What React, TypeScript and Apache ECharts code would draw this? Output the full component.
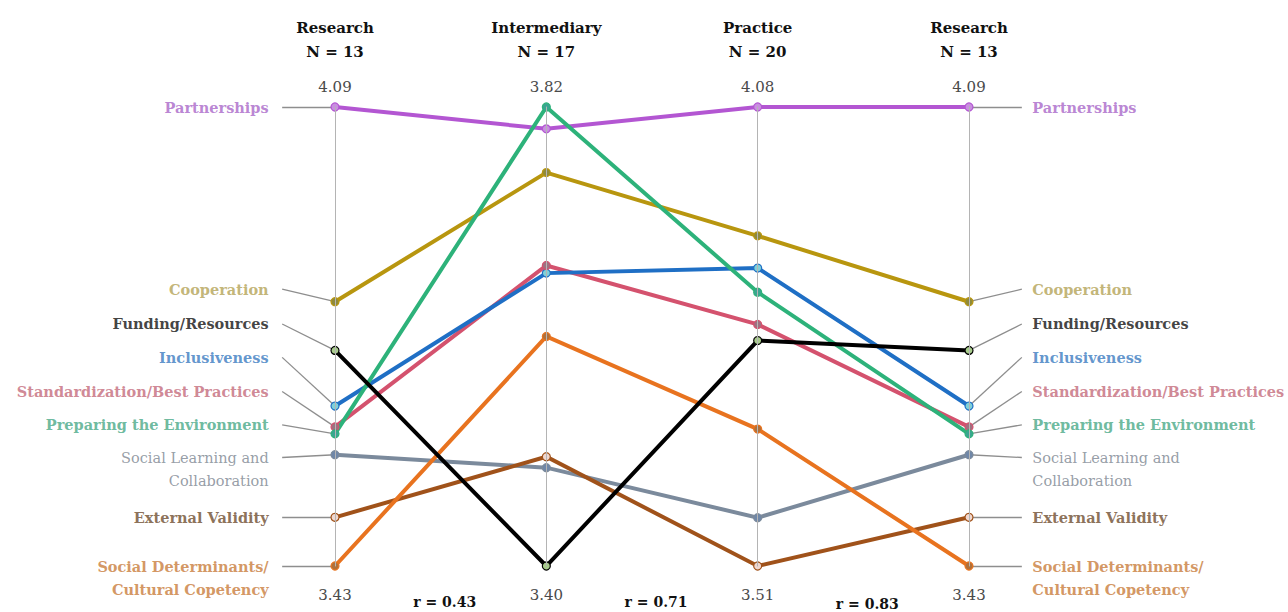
import { useEffect, useRef } from "react";
import * as echarts from "echarts";

// ---------- data ----------
const AXIS_NAMES = ["Research\nN = 13", "Intermediary\nN = 17", "Practice\nN = 20", "Research\nN = 13"];
const AXIS_MIN = [3.43, 3.4, 3.51, 3.43];
const AXIS_MAX = [4.09, 3.82, 4.08, 4.09];

const CATEGORIES = [
  "Partnerships",
  "Cooperation",
  "Funding/Resources",
  "Inclusiveness",
  "Standardization/Best Practices",
  "Preparing the Environment",
  "Social Learning and\nCollaboration",
  "External Validity",
  "Social Determinants/\nCultural Copetency",
];

const RESEARCH = [4.09, 3.81, 3.74, 3.66, 3.63, 3.62, 3.59, 3.5, 3.43];
const INTERMEDIARY = [3.8, 3.76, 3.4, 3.668, 3.675, 3.82, 3.49, 3.5, 3.61];
const PRACTICE = [4.08, 3.92, 3.79, 3.88, 3.81, 3.85, 3.57, 3.51, 3.68];
const RESEARCH_REPEAT = [4.09, 3.81, 3.74, 3.66, 3.63, 3.62, 3.59, 3.5, 3.43];

const CORRELATIONS = ["r = 0.43", "r = 0.71", "r = 0.83"];

// label anchor heights, in Research-axis units (layout)
const LABEL_AT = [4.09, 3.828, 3.778, 3.73, 3.681, 3.633, 3.586, 3.5, 3.43];

// ---------- styles ----------
const LINE_COLORS = ["#b356d2", "#b8960f", "#000000", "#1f6fc5", "#d4526e", "#2db27a", "#7b8a9c", "#a0521a", "#e8731f"];
const DOT_FILLS = ["#c98ee0", "#8f8a3a", "#a8cc8c", "#7fd0d8", "#a07080", "#3aa590", "#6f87a8", "#f0d8d0", "#b0703a"];
const LABEL_COLORS = ["#a866c8", "#b3a255", "#111111", "#3a7bbf", "#c46a7a", "#48a886", "#7c8590", "#6e4c2e", "#c87c3a"];
const LABEL_WEIGHTS = ["bold", "bold", "bold", "bold", "bold", "bold", "normal", "bold", "bold"];
const SERIES_ORDER = [0, 1, 6, 7, 8, 4, 3, 5, 2];

const FONT = "DejaVu Serif";
const W = 1288;
const H = 612;
const AX_LEFT = 335;
const AX_RIGHT = 969;
const TOP = 107;
const BOTTOM = 46;
const STEP = (AX_RIGHT - AX_LEFT) / 3;
const LEAD = 0.25;

export default function App() {
  const ref = useRef<HTMLDivElement>(null);

  useEffect(() => {
    if (!ref.current) return;
    const chart = echarts.init(ref.current, undefined, { renderer: "svg" });
    const values = [RESEARCH, INTERMEDIARY, PRACTICE, RESEARCH_REPEAT];

    const parallelSeries = SERIES_ORDER.map((i) => ({
      type: "parallel",
      parallelIndex: 0,
      silent: true,
      z: 2,
      data: [[RESEARCH[i], INTERMEDIARY[i], PRACTICE[i], RESEARCH_REPEAT[i]]],
      lineStyle: { color: LINE_COLORS[i], width: 4, opacity: 1 },
      emphasis: { disabled: true },
    }));

    const dotSeries = values.map((arr, k) => ({
      type: "scatter",
      xAxisIndex: 0,
      yAxisIndex: k,
      silent: true,
      z: 5,
      symbolSize: 8,
      data: CATEGORIES.map((c, i) => ({
        value: [k, arr[i]],
        itemStyle: { color: DOT_FILLS[i], borderColor: LINE_COLORS[i], borderWidth: 1.2, opacity: 1 },
      })),
    }));

    const leaderSeries = [
      {
        type: "lines",
        coordinateSystem: "cartesian2d",
        xAxisIndex: 0,
        yAxisIndex: 0,
        silent: true,
        z: 1,
        clip: false,
        lineStyle: { color: "#8e8e8e", width: 1.3, opacity: 1 },
        data: CATEGORIES.map((c, i) => ({ coords: [[-LEAD, LABEL_AT[i]], [0, RESEARCH[i]]] })),
      },
      {
        type: "lines",
        coordinateSystem: "cartesian2d",
        xAxisIndex: 0,
        yAxisIndex: 3,
        silent: true,
        z: 1,
        clip: false,
        lineStyle: { color: "#8e8e8e", width: 1.3, opacity: 1 },
        data: CATEGORIES.map((c, i) => ({ coords: [[3, RESEARCH_REPEAT[i]], [3 + LEAD, LABEL_AT[i]]] })),
      },
    ];

    const labelSeries = [0, 1].map((side) => ({
      type: "scatter",
      xAxisIndex: 0,
      yAxisIndex: side === 0 ? 0 : 3,
      silent: true,
      z: 6,
      symbolSize: 1,
      itemStyle: { color: "rgba(0,0,0,0)" },
      data: CATEGORIES.map((c, i) => ({
        value: [side === 0 ? -LEAD : 3 + LEAD, LABEL_AT[i]],
        label: {
          show: true,
          position: side === 0 ? "left" : "right",
          distance: side === 0 ? 13 : 10,
          formatter: c,
          color: LABEL_COLORS[i],
          fontWeight: LABEL_WEIGHTS[i],
          fontFamily: FONT,
          fontSize: 14.5,
          lineHeight: 23,
          offset: c.includes("\n") ? [0, 11.5] : [0, 0],
        },
      })),
    }));

    const option = {
      animation: false,
      backgroundColor: "#ffffff",
      parallel: {
        left: AX_LEFT,
        right: W - AX_RIGHT,
        top: TOP,
        bottom: BOTTOM,
        layout: "horizontal",
      },
      parallelAxis: AXIS_NAMES.map((n, i) => ({
        dim: i,
        type: "value",
        min: AXIS_MIN[i],
        max: AXIS_MAX[i],
        name: n,
        nameLocation: "end",
        nameGap: 43,
        nameTextStyle: {
          fontFamily: FONT,
          fontSize: 15,
          fontWeight: "bold",
          color: "#111111",
          lineHeight: 24,
          align: "center",
        },
        axisLine: { lineStyle: { color: "#b4b4b4", width: 1 } },
        axisTick: { show: false },
        splitLine: { show: false },
        axisLabel: {
          show: true,
          showMinLabel: true,
          showMaxLabel: true,
          margin: 0,
          align: "center",
          formatter: (v: number) => {
            if (Math.abs(v - AXIS_MAX[i]) < 1e-9) return "{t|" + AXIS_MAX[i].toFixed(2) + "}";
            if (Math.abs(v - AXIS_MIN[i]) < 1e-9) return "{b|" + AXIS_MIN[i].toFixed(2) + "}";
            return "";
          },
          rich: {
            t: { fontFamily: FONT, fontSize: 15, color: "#4a4a4a", lineHeight: 16, padding: [0, 0, 40, 0] },
            b: { fontFamily: FONT, fontSize: 15, color: "#4a4a4a", lineHeight: 16, padding: [58, 0, 0, 0] },
          },
        },
      })),
      grid: {
        left: AX_LEFT - LEAD * STEP,
        right: W - AX_RIGHT - LEAD * STEP,
        top: TOP,
        bottom: BOTTOM,
        containLabel: false,
      },
      xAxis: { type: "value", min: -LEAD, max: 3 + LEAD, show: false },
      yAxis: AXIS_MIN.map((mn, i) => ({ type: "value", min: mn, max: AXIS_MAX[i], show: false })),
      graphic: CORRELATIONS.map((r, k) => ({
        type: "text",
        x: AX_LEFT + STEP * (k + 0.5) + 4,
        y: 602 + (k === 2 ? 2 : 0),
        style: {
          text: r,
          fontFamily: FONT,
          fontSize: 14,
          fontWeight: "bold",
          fill: "#111111",
          align: "center",
          verticalAlign: "middle",
        },
      })),
      series: [...leaderSeries, ...parallelSeries, ...dotSeries, ...labelSeries],
    };

    chart.setOption(option as any);
    return () => chart.dispose();
  }, []);

  return <div ref={ref} style={{ position: "absolute", left: 0, top: 0, width: W, height: H }} />;
}
